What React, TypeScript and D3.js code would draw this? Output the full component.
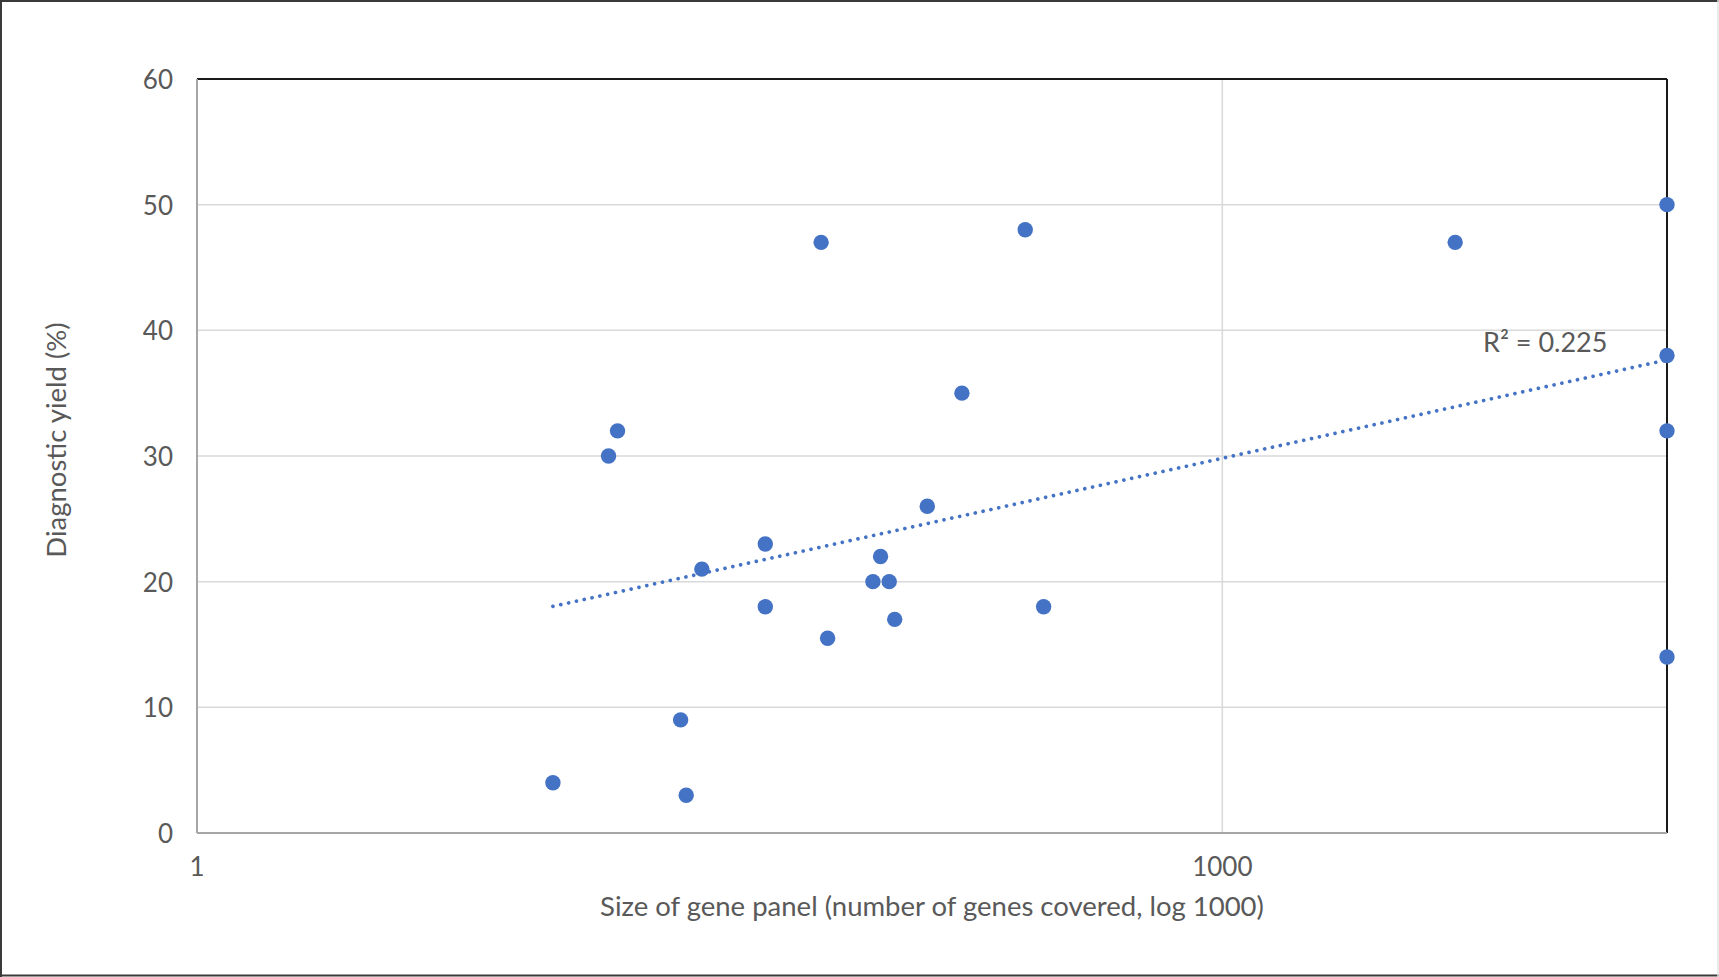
import React from "react";
import * as d3 from "d3";

// Gene panel size (number of genes) and diagnostic yield (%) per study
const panelSizes = [11, 16, 17, 26, 27, 30, 46, 46, 67, 70, 95, 100, 106, 110, 137, 173, 265, 300, 4800, 20000, 20000, 20000, 20000];
const yieldPct = [4, 30, 32, 9, 3, 21, 23, 18, 47, 15.5, 20, 22, 20, 17, 26, 35, 48, 18, 47, 50, 38, 32, 14];

const xTicks = [1, 1000];
const yTicks = [0, 10, 20, 30, 40, 50, 60];
const r2Label = "R² = 0.225";

const W = 1719;
const H = 977;
const M = { left: 197, right: 1667, top: 79, bottom: 833 };

const FONT = "Lato, 'Open Sans', sans-serif";
const TEXT = "#595959";
const BLUE = "#4472C4";

export default function App() {
  const x = d3.scaleLog().base(10).domain([1, 20000]).range([M.left, M.right]);
  const y = d3.scaleLinear().domain([0, 60]).range([M.bottom, M.top]);

  const points = panelSizes.map((s, i) => ({ s, v: yieldPct[i] }));

  // Logarithmic least-squares trendline: y = a * log10(x) + b
  const lx = points.map((p) => Math.log10(p.s));
  const mx = d3.mean(lx) as number;
  const my = d3.mean(yieldPct) as number;
  let sxy = 0;
  let sxx = 0;
  lx.forEach((l, i) => {
    sxy += (l - mx) * (yieldPct[i] - my);
    sxx += (l - mx) * (l - mx);
  });
  const a = sxy / sxx;
  const b = my - a * mx;
  const [minX, maxX] = d3.extent(panelSizes) as [number, number];
  const trendPts = d3.range(0, 101).map((k) => {
    const lv = Math.log10(minX) + (k / 100) * (Math.log10(maxX) - Math.log10(minX));
    return [x(Math.pow(10, lv)), y(a * lv + b)] as [number, number];
  });
  const trendPath = d3.line()(trendPts) as string;

  return (
    <svg
      width={W}
      height={H}
      style={{ position: "absolute", left: 0, top: 0, display: "block", background: "#fff" }}
    >
      <rect x={0} y={0} width={W} height={H} fill="#fff" />
      {/* chart area frame */}
      <line x1={1} y1={0} x2={1} y2={H} stroke="#3a3a3a" strokeWidth={2} />
      <line x1={0} y1={1} x2={W} y2={1} stroke="#3a3a3a" strokeWidth={2} />
      <line x1={0} y1={H - 1.5} x2={W} y2={H - 1.5} stroke="#3a3a3a" strokeWidth={2} />
      <line x1={W - 1} y1={0} x2={W - 1} y2={H} stroke="#e3e3e3" strokeWidth={1.5} />

      {/* horizontal gridlines */}
      {yTicks.filter((t) => t > 0 && t < 60).map((t) => (
        <line key={"gy" + t} x1={M.left} x2={M.right} y1={y(t)} y2={y(t)} stroke="#d9d9d9" strokeWidth={1.5} />
      ))}
      {/* vertical gridlines */}
      {xTicks.filter((t) => t > 1).map((t) => (
        <line key={"gx" + t} x1={x(t)} x2={x(t)} y1={M.top} y2={M.bottom} stroke="#d9d9d9" strokeWidth={1.5} />
      ))}

      {/* plot area border */}
      <line x1={M.left} x2={M.right} y1={M.top} y2={M.top} stroke="#1a1a1a" strokeWidth={2} />
      <line x1={M.right} x2={M.right} y1={M.top} y2={M.bottom} stroke="#1a1a1a" strokeWidth={2} />
      {/* axis lines */}
      <line x1={M.left} x2={M.left} y1={M.top} y2={M.bottom} stroke="#a6a6a6" strokeWidth={2} />
      <line x1={M.left} x2={M.right} y1={M.bottom} y2={M.bottom} stroke="#a6a6a6" strokeWidth={2} />

      {/* y tick labels */}
      {yTicks.map((t) => (
        <text
          key={"ty" + t}
          x={M.left - 24}
          y={y(t)}
          textAnchor="end"
          dominantBaseline="central"
          fontFamily={FONT}
          fontSize={26}
          fill={TEXT}
        >
          {t}
        </text>
      ))}
      {/* x tick labels */}
      {xTicks.map((t) => (
        <text
          key={"tx" + t}
          x={x(t)}
          y={866}
          textAnchor="middle"
          dominantBaseline="central"
          fontFamily={FONT}
          fontSize={26}
          fill={TEXT}
        >
          {t}
        </text>
      ))}

      {/* data markers */}
      {points.map((p, i) => (
        <circle key={"p" + i} cx={x(p.s)} cy={y(p.v)} r={7.7} fill={BLUE} />
      ))}

      {/* trendline */}
      <path
        d={trendPath}
        fill="none"
        stroke={BLUE}
        strokeWidth={3.7}
        strokeLinecap="round"
        strokeDasharray="0.01 8"
      />
      <text x={1483} y={341} dominantBaseline="central" fontFamily={FONT} fontSize={27} fill={TEXT}>
        {r2Label}
      </text>

      {/* axis titles */}
      <text
        x={(M.left + M.right) / 2}
        y={905}
        textAnchor="middle"
        dominantBaseline="central"
        fontFamily={FONT}
        fontSize={27.5}
        fill={TEXT}
      >
        Size of gene panel (number of genes covered, log 1000)
      </text>
      <text
        transform={`translate(55,440) rotate(-90)`}
        textAnchor="middle"
        dominantBaseline="central"
        fontFamily={FONT}
        fontSize={27.5}
        fill={TEXT}
      >
        Diagnostic yield (%)
      </text>
    </svg>
  );
}
